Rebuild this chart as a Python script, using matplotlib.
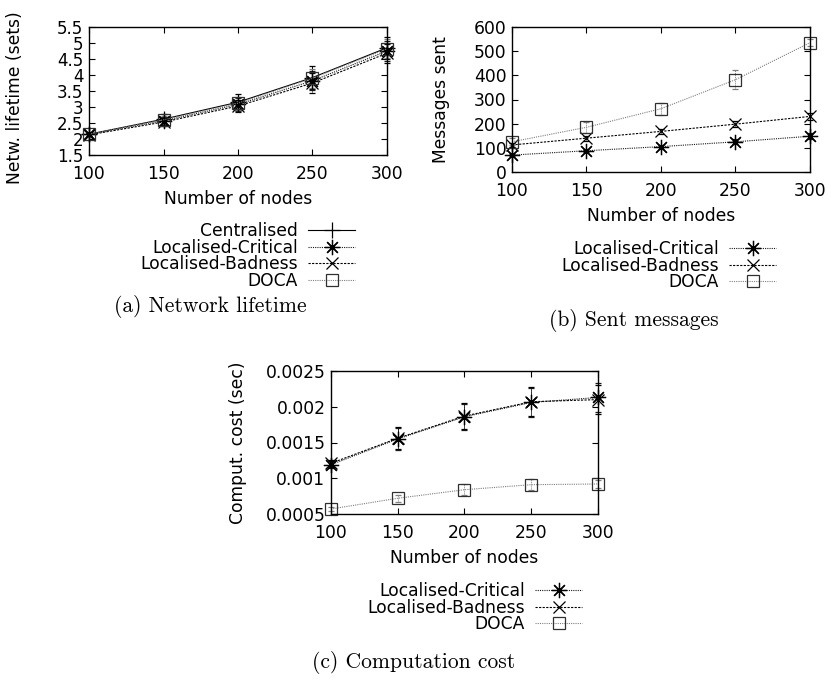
import matplotlib
matplotlib.use("Agg")
import matplotlib.pyplot as plt
from matplotlib.ticker import FixedLocator, FixedFormatter

# ---------------- data ----------------
nodes = [100, 150, 200, 250, 300]

# (a) Network lifetime (sets)
life_central = [2.15, 2.62, 3.15, 3.92, 4.85]
life_central_err = [0.05, 0.15, 0.25, 0.35, 0.35]
life_critical = [2.15, 2.57, 3.08, 3.82, 4.75]
life_critical_err = [0.05, 0.12, 0.20, 0.30, 0.30]
life_badness = [2.13, 2.53, 3.03, 3.75, 4.68]
life_badness_err = [0.05, 0.12, 0.20, 0.30, 0.30]
life_doca = [2.15, 2.60, 3.12, 3.90, 4.82]
life_doca_err = [0.05, 0.12, 0.20, 0.30, 0.30]

# (b) Messages sent
msg_critical = [70, 88, 105, 125, 148]
msg_critical_err = [5, 6, 8, 10, 12]
msg_badness = [112, 140, 168, 198, 230]
msg_badness_err = [8, 10, 12, 12, 15]
msg_doca = [125, 185, 262, 382, 535]
msg_doca_err = [15, 22, 25, 40, 15]

# (c) Computation cost (sec)
cost_critical = [0.00119, 0.00155, 0.00186, 0.00206, 0.00213]
cost_critical_err = [0.00005, 0.00015, 0.00018, 0.00020, 0.00020]
cost_badness = [0.00121, 0.00156, 0.00187, 0.00207, 0.00210]
cost_badness_err = [0.00005, 0.00015, 0.00018, 0.00020, 0.00020]
cost_doca = [0.00057, 0.00072, 0.00084, 0.00091, 0.00092]
cost_doca_err = [0.00003, 0.00005, 0.00008, 0.00008, 0.00005]

xticks = [100, 150, 200, 250, 300]
yticks_a = [1.5, 2, 2.5, 3, 3.5, 4, 4.5, 5, 5.5]
ylabels_a = ["1.5", "2", "2.5", "3", "3.5", "4", "4.5", "5", "5.5"]
yticks_b = [0, 100, 200, 300, 400, 500, 600]
ylabels_b = ["0", "100", "200", "300", "400", "500", "600"]
yticks_c = [0.0005, 0.001, 0.0015, 0.002, 0.0025]
ylabels_c = ["0.0005", "0.001", "0.0015", "0.002", "0.0025"]

# ---------------- styles ----------------
FS = 12.3
plt.rcParams["font.family"] = ["DejaVu Sans"]
plt.rcParams["font.size"] = FS

styles = {
    "Centralised": dict(color="black", ls="-", marker="+", ms=12),
    "Localised-Critical": dict(color="#1a1a1a", ls=(0, (1, 1)), marker=(8, 2, 0), ms=11),
    "Localised-Badness": dict(color="black", ls=(0, (2, 1.2)), marker="x", ms=9),
    "DOCA": dict(color="#808080", ls=(0, (1, 1)), marker="s", ms=9),
}
mec_map = {"Centralised": "black", "Localised-Critical": "black",
           "Localised-Badness": "black", "DOCA": "#303030"}

W, H = 828, 679
fig = plt.figure(figsize=(W / 100, H / 100), dpi=100)


def px_axes(l, r, t, b):
    return fig.add_axes([l / W, 1 - b / H, (r - l) / W, (b - t) / H])


def setup(ax, yt, yl, ylim, ylabel, ylab_x, ylab_y=0.5, ytick_fs=FS):
    ax.set_xlim(100, 300)
    ax.set_ylim(*ylim)
    ax.xaxis.set_major_locator(FixedLocator(xticks))
    ax.yaxis.set_major_locator(FixedLocator(yt))
    ax.yaxis.set_major_formatter(FixedFormatter(yl))
    ax.tick_params(direction="in", length=4, width=0.8, top=True, right=True,
                   labelsize=FS)
    ax.tick_params(axis="x", pad=7)
    ax.tick_params(axis="y", pad=4, labelsize=ytick_fs)
    for s in ax.spines.values():
        s.set_linewidth(1.0)
    ax.set_xlabel("Number of nodes", fontsize=FS, labelpad=5)
    ax.set_ylabel(ylabel, fontsize=FS)
    ax.yaxis.set_label_coords(ylab_x, ylab_y)


def series(ax, name, y, err):
    st = styles[name]
    cont = ax.errorbar(nodes, y, yerr=err, color=st["color"], ls=st["ls"], lw=0.8,
                       marker=st["marker"], ms=st["ms"], mfc="none",
                       mec=mec_map[name], mew=0.9, ecolor=st["color"],
                       elinewidth=0.7, capsize=2, capthick=0.7, clip_on=False)
    for art in list(cont[1]) + list(cont[2]):
        art.set_clip_on(False)
    for bar in cont[2]:
        bar.set_linestyle((0, (1, 1)) if name != "Centralised" else "-")
    line = cont[0]
    line.set_clip_on(False)
    return line, name


def legend(ax, items, right_px, top_px):
    ax.legend([h for h, _ in items], [n for _, n in items], loc="upper right",
              bbox_to_anchor=(right_px / W, 1 - top_px / H),
              bbox_transform=fig.transFigure, markerfirst=False, frameon=False,
              fontsize=FS, handlelength=2.75, handletextpad=0.6,
              labelspacing=-0.08, borderpad=0, borderaxespad=0)


# (a)
axa = px_axes(89, 387, 27, 155)
ha = [series(axa, "Centralised", life_central, life_central_err),
      series(axa, "Localised-Critical", life_critical, life_critical_err),
      series(axa, "Localised-Badness", life_badness, life_badness_err),
      series(axa, "DOCA", life_doca, life_doca_err)]
setup(axa, yticks_a, ylabels_a, (1.5, 5.5), "Netw. lifetime (sets)", -0.218,
      ylab_y=0.45, ytick_fs=12)
legend(axa, ha, 355, 222)

# (b)
axb = px_axes(512, 810, 27, 172)
hb = [series(axb, "Localised-Critical", msg_critical, msg_critical_err),
      series(axb, "Localised-Badness", msg_badness, msg_badness_err),
      series(axb, "DOCA", msg_doca, msg_doca_err)]
setup(axb, yticks_b, ylabels_b, (0, 600), "Messages sent", -0.208)
legend(axb, hb, 776, 240)

# (c)
axc = px_axes(331, 598, 371, 514)
hc = [series(axc, "Localised-Critical", cost_critical, cost_critical_err),
      series(axc, "Localised-Badness", cost_badness, cost_badness_err),
      series(axc, "DOCA", cost_doca, cost_doca_err)]
setup(axc, yticks_c, ylabels_c, (0.0005, 0.0025), "Comput. cost (sec)", -0.315)
legend(axc, hc, 582, 582)

# captions
cap = dict(fontfamily="cmr10", fontsize=15.5, ha="center", va="center")
fig.text(210 / W, 1 - 307 / H, "(a) Network lifetime", **cap)
fig.text(634 / W, 1 - 320 / H, "(b) Sent messages", **cap)
fig.text(414 / W, 1 - 663 / H, "(c) Computation cost", **cap)

fig.savefig("out.png", dpi=100)
